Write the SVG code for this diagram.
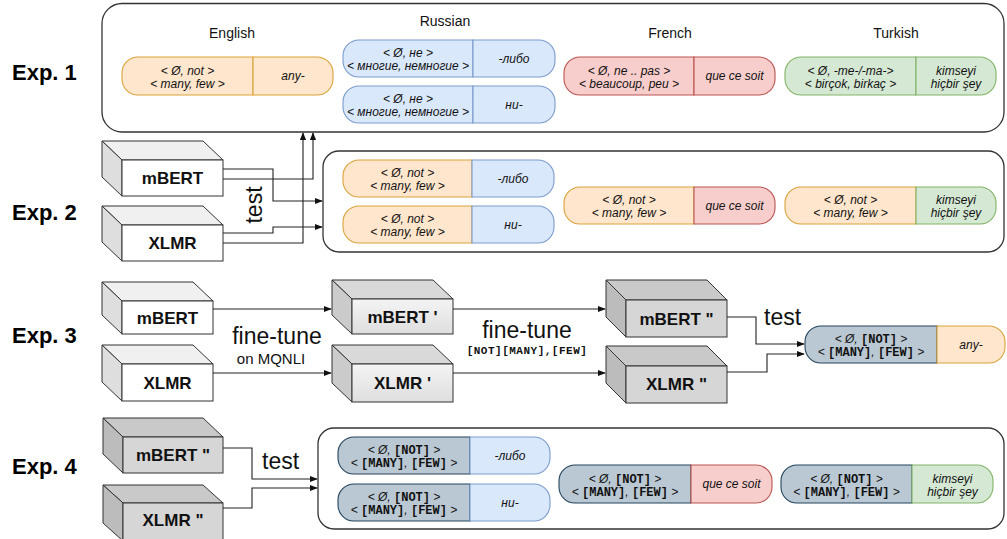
<svg xmlns="http://www.w3.org/2000/svg" width="1007" height="539" viewBox="0 0 1007 539">
  <defs>
    <marker id="arrow" viewBox="0 0 10 10" refX="9" refY="5" markerWidth="8" markerHeight="8" markerUnits="userSpaceOnUse" orient="auto">
      <path d="M0,1 L10,5 L0,9 z" fill="#111"/>
    </marker>
    <linearGradient id="gLight" x1="0" y1="0" x2="0" y2="1">
      <stop offset="0" stop-color="#f4f4f4"/>
      <stop offset="1" stop-color="#dedede"/>
    </linearGradient>
    <style>
      .frame { fill: #fff; stroke: #333; stroke-width: 1.3; }
      .exp { font-family: "Liberation Sans", Arial, sans-serif; font-weight: bold; font-size: 22px; fill: #000; }
      .lang { font-family: "Liberation Sans", Arial, sans-serif; font-size: 14px; fill: #111; text-anchor: middle; }
      .big { font-family: "Liberation Sans", Arial, sans-serif; font-size: 23px; fill: #111; }
      .small { font-family: "Liberation Sans", Arial, sans-serif; font-size: 15px; fill: #111; text-anchor: middle; }
      .mono { font-family: "Liberation Mono", "Courier New", monospace; font-weight: bold; font-size: 11px; fill: #111; }
      .pt { font-family: "Liberation Sans", Arial, sans-serif; font-style: italic; font-size: 12px; fill: #111; text-anchor: middle; }
      .tok { font-family: "Liberation Mono", "Courier New", monospace; font-style: normal; font-weight: bold; font-size: 12px; }
      .cube-label { font-family: "Liberation Sans", Arial, sans-serif; font-weight: bold; font-size: 17px; fill: #111; text-anchor: middle; }
      .edge { fill: none; stroke: #222; stroke-width: 1.1; }
      .cube polygon, .cube rect { stroke: #333; stroke-width: 1; }
      .w .front { fill: #fff; } .w .top { fill: #f0f0f0; } .w .side { fill: #dedede; }
      .g1 .front { fill: url(#gLight); } .g1 .top { fill: #d9d9d9; } .g1 .side { fill: #cbcbcb; }
      .g2 .front { fill: #d6d6d6; } .g2 .top { fill: #c9c9c9; } .g2 .side { fill: #bcbcbc; }
      .or { fill: #ffe6cc; stroke: #d9a33a; stroke-width: 1.1; }
      .bl { fill: #dae8fc; stroke: #7a9bcc; stroke-width: 1.1; }
      .rd { fill: #f8cecc; stroke: #b85450; stroke-width: 1.1; }
      .gr { fill: #d5e8d4; stroke: #82b366; stroke-width: 1.1; }
      .sl { fill: #bac8d3; stroke: #23445d; stroke-width: 1.1; }
    </style>
  </defs>

  <rect width="1007" height="539" fill="#fff"/>

  <!-- experiment row labels -->
  <g id="labels">
    <text class="exp" x="12" y="80">Exp. 1</text>
    <text class="exp" x="12" y="220">Exp. 2</text>
    <text class="exp" x="12" y="343">Exp. 3</text>
    <text class="exp" x="12" y="474">Exp. 4</text>
  </g>

  <!-- ===== Exp. 1 ===== -->
  <g id="exp1-frame"><rect class="frame" x="102" y="3.5" width="902" height="128.5" rx="20"/></g>
  <g id="exp1-langs">
    <text class="lang" x="232" y="38">English</text>
    <text class="lang" x="445" y="26">Russian</text>
    <text class="lang" x="670" y="38">French</text>
    <text class="lang" x="896" y="38">Turkish</text>
  </g>
  <g id="exp1-english">
    <path class="or" d="M253,57 H138 A16,16 0 0 0 122,73 V79 A16,16 0 0 0 138,95 H253 Z"/>
    <path class="or" d="M253,57 H317 A16,16 0 0 1 333,73 V79 A16,16 0 0 1 317,95 H253 Z"/>
    <text class="pt" x="187.5" y="74.5">&lt; Ø, not &gt;</text>
    <text class="pt" x="187.5" y="87.5">&lt; many, few &gt;</text>
    <text class="pt" x="293" y="80">any-</text>
  </g>
  <g id="exp1-russian-1">
    <path class="bl" d="M473,40 H359 A16,16 0 0 0 343,56 V61 A16,16 0 0 0 359,77 H473 Z"/>
    <path class="bl" d="M473,40 H539 A16,16 0 0 1 555,56 V61 A16,16 0 0 1 539,77 H473 Z"/>
    <text class="pt" x="408" y="57">&lt; Ø, не &gt;</text>
    <text class="pt" x="408" y="70">&lt; многие, немногие &gt;</text>
    <text class="pt" x="514" y="62.5">-либо</text>
  </g>
  <g id="exp1-russian-2">
    <path class="bl" d="M473,86 H359 A16,16 0 0 0 343,102 V107 A16,16 0 0 0 359,123 H473 Z"/>
    <path class="bl" d="M473,86 H539 A16,16 0 0 1 555,102 V107 A16,16 0 0 1 539,123 H473 Z"/>
    <text class="pt" x="408" y="103">&lt; Ø, не &gt;</text>
    <text class="pt" x="408" y="116">&lt; многие, немногие &gt;</text>
    <text class="pt" x="514" y="108.5">ни-</text>
  </g>
  <g id="exp1-french">
    <path class="rd" d="M694,57 H580 A16,16 0 0 0 564,73 V79 A16,16 0 0 0 580,95 H694 Z"/>
    <path class="rd" d="M694,57 H759 A16,16 0 0 1 775,73 V79 A16,16 0 0 1 759,95 H694 Z"/>
    <text class="pt" x="629" y="74.5">&lt; Ø, ne .. pas &gt;</text>
    <text class="pt" x="629" y="87.5">&lt; beaucoup, peu &gt;</text>
    <text class="pt" x="734.5" y="80">que ce soit</text>
  </g>
  <g id="exp1-turkish">
    <path class="gr" d="M916,57 H801 A16,16 0 0 0 785,73 V79 A16,16 0 0 0 801,95 H916 Z"/>
    <path class="gr" d="M916,57 H980 A16,16 0 0 1 996,73 V79 A16,16 0 0 1 980,95 H916 Z"/>
    <text class="pt" x="850.5" y="74.5">&lt; Ø, -me-/-ma-&gt;</text>
    <text class="pt" x="850.5" y="87.5">&lt; birçok, birkaç &gt;</text>
    <text class="pt" x="956" y="74.5">kimseyi</text>
    <text class="pt" x="956" y="87.5">hiçbir şey</text>
  </g>

  <!-- ===== Exp. 2 ===== -->
  <g id="exp2-frame"><rect class="frame" x="323" y="151" width="681" height="101" rx="16"/></g>
  <g id="exp2-mbert" class="cube w">
    <polygon class="top" points="102,141 203,141 223,160 122,160"/>
    <polygon class="side" points="102,141 122,160 122,196 102,177"/>
    <rect class="front" x="122" y="160" width="101" height="36"/>
    <text class="cube-label" x="172.5" y="184">mBERT</text>
  </g>
  <g id="exp2-xlmr" class="cube w">
    <polygon class="top" points="102,206 203,206 223,225 122,225"/>
    <polygon class="side" points="102,206 122,225 122,261 102,242"/>
    <rect class="front" x="122" y="225" width="101" height="36"/>
    <text class="cube-label" x="172.5" y="249">XLMR</text>
  </g>
  <text class="big" transform="translate(262,205) rotate(-90)" text-anchor="middle">test</text>
  <g id="exp2-pill-a">
    <path class="or" d="M472,160 H359 A16,16 0 0 0 343,176 V181 A16,16 0 0 0 359,197 H472 Z"/>
    <path class="bl" d="M472,160 H538 A16,16 0 0 1 554,176 V181 A16,16 0 0 1 538,197 H472 Z"/>
    <text class="pt" x="407.5" y="177">&lt; Ø, not &gt;</text>
    <text class="pt" x="407.5" y="190">&lt; many, few &gt;</text>
    <text class="pt" x="513" y="182.5">-либо</text>
  </g>
  <g id="exp2-pill-b">
    <path class="or" d="M472,206 H359 A16,16 0 0 0 343,222 V227 A16,16 0 0 0 359,243 H472 Z"/>
    <path class="bl" d="M472,206 H538 A16,16 0 0 1 554,222 V227 A16,16 0 0 1 538,243 H472 Z"/>
    <text class="pt" x="407.5" y="223">&lt; Ø, not &gt;</text>
    <text class="pt" x="407.5" y="236">&lt; many, few &gt;</text>
    <text class="pt" x="513" y="228.5">ни-</text>
  </g>
  <g id="exp2-pill-c">
    <path class="or" d="M694,187 H580 A16,16 0 0 0 564,203 V208 A16,16 0 0 0 580,224 H694 Z"/>
    <path class="rd" d="M694,187 H759 A16,16 0 0 1 775,203 V208 A16,16 0 0 1 759,224 H694 Z"/>
    <text class="pt" x="629" y="204">&lt; Ø, not &gt;</text>
    <text class="pt" x="629" y="217">&lt; many, few &gt;</text>
    <text class="pt" x="734.5" y="209.5">que ce soit</text>
  </g>
  <g id="exp2-pill-d">
    <path class="or" d="M916,187 H801 A16,16 0 0 0 785,203 V208 A16,16 0 0 0 801,224 H916 Z"/>
    <path class="gr" d="M916,187 H980 A16,16 0 0 1 996,203 V208 A16,16 0 0 1 980,224 H916 Z"/>
    <text class="pt" x="850.5" y="204">&lt; Ø, not &gt;</text>
    <text class="pt" x="850.5" y="217">&lt; many, few &gt;</text>
    <text class="pt" x="956" y="204">kimseyi</text>
    <text class="pt" x="956" y="217">hiçbir şey</text>
  </g>

  <!-- ===== Exp. 3 ===== -->
  <g id="exp3-mbert" class="cube w">
    <polygon class="top" points="102,282 193,282 213,301 122,301"/>
    <polygon class="side" points="102,282 122,301 122,334 102,315"/>
    <rect class="front" x="122" y="301" width="91" height="33"/>
    <text class="cube-label" x="167.5" y="323.5">mBERT</text>
  </g>
  <g id="exp3-xlmr" class="cube w">
    <polygon class="top" points="102,345 193,345 213,364 122,364"/>
    <polygon class="side" points="102,345 122,364 122,401 102,382"/>
    <rect class="front" x="122" y="364" width="91" height="37"/>
    <text class="cube-label" x="167.5" y="389">XLMR</text>
  </g>
  <g id="exp3-mbert-ft" class="cube g1">
    <polygon class="top" points="332,280 433,280 453,299 352,299"/>
    <polygon class="side" points="332,280 352,299 352,334 332,315"/>
    <rect class="front" x="352" y="299" width="101" height="35"/>
    <text class="cube-label" x="402.5" y="323">mBERT '</text>
  </g>
  <g id="exp3-xlmr-ft" class="cube g1">
    <polygon class="top" points="332,345 433,345 453,364 352,364"/>
    <polygon class="side" points="332,345 352,364 352,402 332,383"/>
    <rect class="front" x="352" y="364" width="101" height="38"/>
    <text class="cube-label" x="402.5" y="389">XLMR '</text>
  </g>
  <g id="exp3-mbert-ft2" class="cube g2">
    <polygon class="top" points="606,280 707,280 727,300 626,300"/>
    <polygon class="side" points="606,280 626,300 626,337 606,317"/>
    <rect class="front" x="626" y="300" width="101" height="37"/>
    <text class="cube-label" x="676.5" y="325">mBERT "</text>
  </g>
  <g id="exp3-xlmr-ft2" class="cube g2">
    <polygon class="top" points="606,346 707,346 727,366 626,366"/>
    <polygon class="side" points="606,346 626,366 626,403 606,383"/>
    <rect class="front" x="626" y="366" width="101" height="37"/>
    <text class="cube-label" x="676.5" y="390">XLMR "</text>
  </g>
  <text class="big" x="277" y="344" text-anchor="middle">fine-tune</text>
  <text class="small" x="271" y="364">on MQNLI</text>
  <text class="big" x="527" y="338" text-anchor="middle">fine-tune</text>
  <text class="mono" x="527" y="354" text-anchor="middle" letter-spacing="0.5">[NOT][MANY],[FEW]</text>
  <text class="big" x="764" y="325">test</text>
  <g id="exp3-pill">
    <path class="sl" d="M937,326 H821 A16,16 0 0 0 805,342 V347 A16,16 0 0 0 821,363 H937 Z"/>
    <path class="or" d="M937,326 H989 A16,16 0 0 1 1005,342 V347 A16,16 0 0 1 989,363 H937 Z"/>
    <text class="pt" x="871" y="343">&lt; Ø, <tspan class="tok">[NOT]</tspan> &gt;</text>
    <text class="pt" x="871" y="356">&lt; <tspan class="tok">[MANY]</tspan>, <tspan class="tok">[FEW]</tspan> &gt;</text>
    <text class="pt" x="971" y="348.5">any-</text>
  </g>

  <!-- ===== Exp. 4 ===== -->
  <g id="exp4-frame"><rect class="frame" x="318" y="428" width="686" height="101" rx="16"/></g>
  <g id="exp4-mbert-ft2" class="cube g2">
    <polygon class="top" points="103,418 203,418 223,437 123,437"/>
    <polygon class="side" points="103,418 123,437 123,473 103,454"/>
    <rect class="front" x="123" y="437" width="100" height="36"/>
    <text class="cube-label" x="173" y="461">mBERT "</text>
  </g>
  <g id="exp4-xlmr-ft2" class="cube g2">
    <polygon class="top" points="103,485 203,485 223,503 123,503"/>
    <polygon class="side" points="103,485 123,503 123,541 103,523"/>
    <rect class="front" x="123" y="503" width="100" height="38"/>
    <text class="cube-label" x="173" y="526">XLMR "</text>
  </g>
  <text class="big" x="262" y="469">test</text>
  <g id="exp4-pill-1">
    <path class="sl" d="M470,437 H354 A16,16 0 0 0 338,453 V458 A16,16 0 0 0 354,474 H470 Z"/>
    <path class="bl" d="M470,437 H534 A16,16 0 0 1 550,453 V458 A16,16 0 0 1 534,474 H470 Z"/>
    <text class="pt" x="404" y="454">&lt; Ø, <tspan class="tok">[NOT]</tspan> &gt;</text>
    <text class="pt" x="404" y="467">&lt; <tspan class="tok">[MANY]</tspan>, <tspan class="tok">[FEW]</tspan> &gt;</text>
    <text class="pt" x="510" y="459.5">-либо</text>
  </g>
  <g id="exp4-pill-2">
    <path class="sl" d="M470,484 H354 A16,16 0 0 0 338,500 V505 A16,16 0 0 0 354,521 H470 Z"/>
    <path class="bl" d="M470,484 H534 A16,16 0 0 1 550,500 V505 A16,16 0 0 1 534,521 H470 Z"/>
    <text class="pt" x="404" y="501">&lt; Ø, <tspan class="tok">[NOT]</tspan> &gt;</text>
    <text class="pt" x="404" y="514">&lt; <tspan class="tok">[MANY]</tspan>, <tspan class="tok">[FEW]</tspan> &gt;</text>
    <text class="pt" x="510" y="506.5">ни-</text>
  </g>
  <g id="exp4-pill-3">
    <path class="sl" d="M691,465 H575 A16,16 0 0 0 559,481 V487 A16,16 0 0 0 575,503 H691 Z"/>
    <path class="rd" d="M691,465 H756 A16,16 0 0 1 772,481 V487 A16,16 0 0 1 756,503 H691 Z"/>
    <text class="pt" x="625" y="482.5">&lt; Ø, <tspan class="tok">[NOT]</tspan> &gt;</text>
    <text class="pt" x="625" y="495.5">&lt; <tspan class="tok">[MANY]</tspan>, <tspan class="tok">[FEW]</tspan> &gt;</text>
    <text class="pt" x="731.5" y="488">que ce soit</text>
  </g>
  <g id="exp4-pill-4">
    <path class="sl" d="M912,465 H797 A16,16 0 0 0 781,481 V487 A16,16 0 0 0 797,503 H912 Z"/>
    <path class="gr" d="M912,465 H977 A16,16 0 0 1 993,481 V487 A16,16 0 0 1 977,503 H912 Z"/>
    <text class="pt" x="846.5" y="482.5">&lt; Ø, <tspan class="tok">[NOT]</tspan> &gt;</text>
    <text class="pt" x="846.5" y="495.5">&lt; <tspan class="tok">[MANY]</tspan>, <tspan class="tok">[FEW]</tspan> &gt;</text>
    <text class="pt" x="952.5" y="482.5">kimseyi</text>
    <text class="pt" x="952.5" y="495.5">hiçbir şey</text>
  </g>

  <!-- connectors -->
  <g id="connectors" class="edge" marker-end="url(#arrow)">
    <!-- Exp. 2: zero-shot test on both containers -->
    <path d="M223,169 H273 V201 H322"/>
    <path d="M223,179 H313 V133"/>
    <path d="M223,233 H273 V227 H322"/>
    <path d="M223,243 H303 V133"/>
    <!-- Exp. 3: fine-tuning chain -->
    <path d="M213,309 H331"/>
    <path d="M213,373 H331"/>
    <path d="M453,309 H605"/>
    <path d="M453,373 H605"/>
    <path d="M727,317 H756 V344 H804"/>
    <path d="M727,372 H767 V354 H804"/>
    <!-- Exp. 4 -->
    <path d="M223,448 H252 V479 H317"/>
    <path d="M223,508 H252 V488 H317"/>
  </g>
</svg>
